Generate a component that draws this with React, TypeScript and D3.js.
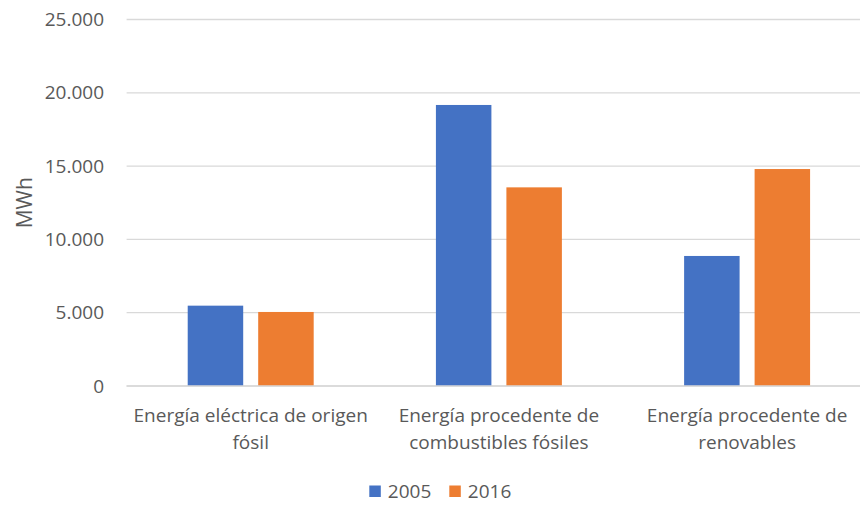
import React from "react";
import * as d3 from "d3";

const categories: string[][] = [
  ["Energía eléctrica de origen", "fósil"],
  ["Energía procedente de", "combustibles fósiles"],
  ["Energía procedente de", "renovables"],
];
const seriesNames = ["2005", "2016"];
const values2005 = [5480, 19170, 8870];
const values2016 = [5050, 13550, 14800];
const yTicks = [0, 5000, 10000, 15000, 20000, 25000];
const colors = ["#4472c4", "#ed7d31"];

const W = 860;
const H = 505;
const FONT = "'Open Sans', sans-serif";
const TEXT = "#595959";
const FS = 19;

export default function App() {
  const x = d3.scaleBand<number>().domain([0, 1, 2]).range([126.6, 871.2]);
  const inner = d3
    .scaleBand<number>()
    .domain([0, 1])
    .range([0, x.bandwidth()])
    .paddingInner(0.2128)
    .paddingOuter(0.867);
  const y = d3.scaleLinear().domain([0, 25000]).range([386, 19.5]);
  const fmt = (v: number) => d3.format(",")(v).replace(/,/g, ".");
  const series = [values2005, values2016];

  return (
    <svg
      width={W}
      height={H}
      style={{ position: "absolute", left: 0, top: 0, background: "#fff" }}
      fontFamily={FONT}
    >
      {yTicks.map((t) => (
        <g key={t}>
          <line x1={126.6} x2={871} y1={y(t)} y2={y(t)} stroke="#d9d9d9" strokeWidth={1.3} />
          <text x={104} y={y(t)} dy="0.35em" textAnchor="end" fontSize={FS} fill={TEXT}>
            {fmt(t)}
          </text>
        </g>
      ))}
      {series.map((vals, si) =>
        vals.map((v, ci) => (
          <rect
            key={`${si}-${ci}`}
            x={(x(ci) as number) + (inner(si) as number)}
            width={inner.bandwidth()}
            y={y(v)}
            height={y(0) - y(v)}
            fill={colors[si]}
          />
        ))
      )}
      <line x1={126.6} x2={871} y1={y(0)} y2={y(0)} stroke="#d9d9d9" strokeWidth={1.3} />
      {categories.map((lines, ci) => (
        <text
          key={ci}
          x={(x(ci) as number) + x.bandwidth() / 2}
          y={422}
          textAnchor="middle"
          fontSize={FS}
          fill={TEXT}
        >
          {lines.map((l, li) => (
            <tspan key={li} x={(x(ci) as number) + x.bandwidth() / 2} dy={li === 0 ? 0 : 27}>
              {l}
            </tspan>
          ))}
        </text>
      ))}
      <text
        transform={`translate(31.5,${(y(0) + y(25000)) / 2}) rotate(-90)`}
        textAnchor="middle"
        fontSize={21}
        fill={TEXT}
      >
        MWh
      </text>
      {seriesNames.map((s, i) => (
        <g key={s} transform={`translate(${369.3 + i * 80},485.5)`}>
          <rect width={11.5} height={11.5} fill={colors[i]} />
          <text x={18.5} y={6} dy="0.35em" fontSize={FS} fill={TEXT}>
            {s}
          </text>
        </g>
      ))}
    </svg>
  );
}
